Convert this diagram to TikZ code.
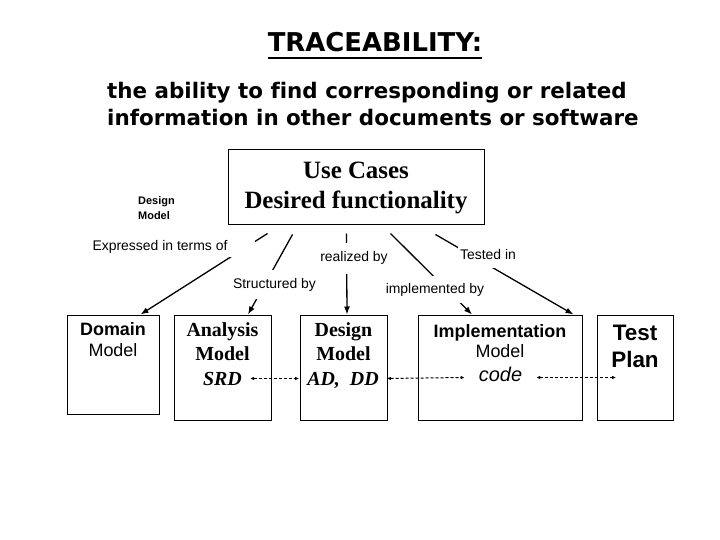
\documentclass[tikz,border=0pt]{standalone}
\usepackage{fontspec}
\setmainfont{Liberation Serif}
\newfontfamily\arialfont{Liberation Sans}
\newfontfamily\verdfont[Ligatures=NoCommon]{DejaVu Sans}
\usepackage{tikz}
\usetikzlibrary{arrows.meta}

\begin{document}
\begin{tikzpicture}[x=1bp, y=-1bp, >=Latex,
  box/.style={draw, line width=1bp, rectangle, inner sep=0pt},
  boxtext/.style={anchor=north, inner sep=0pt, align=center},
  lbl/.style={fill=white, anchor=base, inner xsep=2bp, font=\arialfont\fontsize{14}{16}\selectfont},
  tag/.style={inner xsep=8bp, inner ysep=0pt, text depth=0pt},
  link/.style={line width=1.3bp, -{Latex[length=8bp,width=6bp]}},
  trace/.style={line width=1bp, dash pattern=on 3bp off 2bp, {Latex[length=4bp,width=3.5bp]}-{Latex[length=4bp,width=3.5bp]}}]
  \useasboundingbox (0,0) rectangle (720,540);

  \node[anchor=base, inner sep=0pt, font=\verdfont\bfseries\fontsize{26}{30}\selectfont] (title) at (375,52) {TRACEABILITY:};
  \draw[line width=2bp] ([yshift=-6bp]title.base west) -- ([yshift=-6bp]title.base east);
  \node[anchor=north west, inner sep=0pt, align=left, font=\verdfont\bfseries\fontsize{21.5}{27}\selectfont] (sub) at (107,82)
    {the ability to find corresponding or related\\information in other documents or software};

  \node[box, minimum width=256bp, minimum height=75bp, align=center, font=\bfseries\fontsize{25}{30}\selectfont] (uc) at (356,187.5) {Use Cases\\Desired functionality};
  \node[anchor=north west, inner sep=0pt, align=left, font=\arialfont\bfseries\fontsize{11}{15}\selectfont] (dmsmall) at (138,196) {Design\\Model};

  \node[box, minimum width=92bp, minimum height=99bp] (domain) at (113,364.5) {};
  \node[box, minimum width=97bp, minimum height=105bp] (analysis) at (222.5,367.5) {};
  \node[box, minimum width=87bp, minimum height=105bp] (design) at (343.5,367.5) {};
  \node[box, minimum width=164bp, minimum height=105bp] (impl) at (500,367.5) {};
  \node[box, minimum width=76bp, minimum height=105bp] (test) at (635,367.5) {};

  \node[boxtext, font=\arialfont\fontsize{18}{21}\selectfont] (domtxt) at ([yshift=-8bp]domain.north) {\bfseries Domain\\Model};
  \node[boxtext, font=\bfseries\fontsize{20}{24}\selectfont] (anatxt) at ([yshift=-8bp]analysis.north) {Analysis\\Model};
  \node[boxtext, font=\bfseries\fontsize{20}{24}\selectfont] (destxt) at ([yshift=-8bp]design.north) {Design\\Model};
  \node[boxtext, font=\arialfont\fontsize{18}{20}\selectfont] (imptxt) at ([yshift=-10bp]impl.north) {\bfseries Implementation\\Model};
  \node[boxtext, font=\arialfont\bfseries\fontsize{22.5}{27}\selectfont] (testtxt) at ([yshift=-10bp]test.north) {Test\\Plan};

  \node[tag, text height=13bp, font=\bfseries\itshape\fontsize{20}{24}\selectfont] (srd) at (222.5,378.5) {SRD};
  \node[tag, text height=13bp, font=\bfseries\itshape\fontsize{20}{24}\selectfont] (addd) at (343,378.5) {AD,~~DD};
  \node[tag, inner xsep=14bp, text height=7bp, font=\arialfont\itshape\fontsize{20}{24}\selectfont] (code) at (500.5,377.5) {code};

  \draw[link] ([xshift=40bp,yshift=-8bp]uc.south west) -- ([xshift=-19bp]domain.north east);
  \draw[link] ([xshift=65bp,yshift=-9bp]uc.south west) -- ([xshift=25.5bp]analysis.north);
  \draw[link] ([xshift=119bp,yshift=-8bp]uc.south west) -- ([xshift=3.5bp]design.north);
  \draw[link] ([xshift=163bp,yshift=-8bp]uc.south west) -- ([xshift=-28bp]impl.north);
  \draw[link] ([xshift=208bp,yshift=-9bp]uc.south west) -- ([xshift=-9bp]impl.north east);

  \node[lbl, inner xsep=28bp, inner ysep=3bp] (expr) at (160,251) {Expressed in terms of};
  \node[lbl, inner ysep=8bp] (struct) at (274.5,288) {Structured by};
  \node[lbl, inner ysep=9bp] (real) at (354,262) {realized by};
  \node[lbl, inner ysep=7bp] (implby) at (435,293) {implemented by};
  \node[lbl, inner ysep=8bp] (tested) at (488,260) {Tested in};

  \draw[trace] (srd.east) -- (addd.west);
  \draw[trace] (addd.east) -- (code.west);
  \draw[trace] (code.east) -- ([xshift=5bp]code.east -| testtxt.west);
\end{tikzpicture}
\end{document}
